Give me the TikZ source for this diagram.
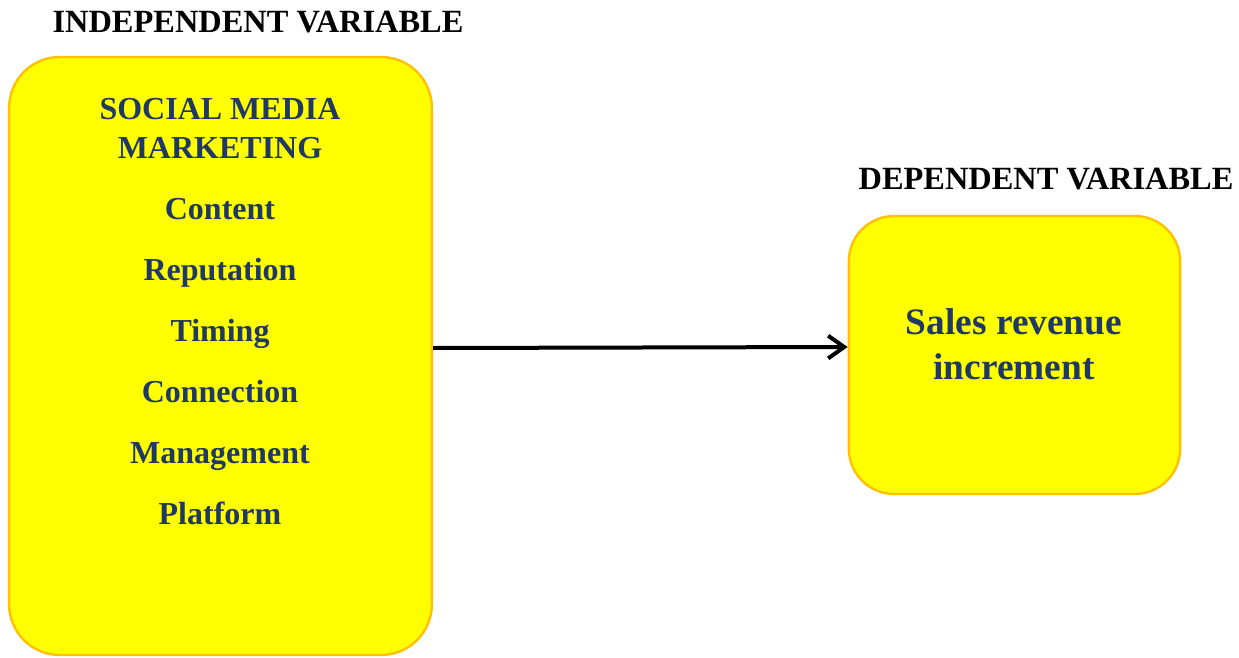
\documentclass[tikz,border=0pt]{standalone}
\usepackage{fontspec}
\setmainfont{Liberation Serif}
\usetikzlibrary{arrows.meta}
\definecolor{boxfill}{HTML}{FFFF00}
\definecolor{boxline}{HTML}{FFC000}
\definecolor{navy}{HTML}{203864}
\tikzset{
  varbox/.style={draw=boxline, fill=boxfill, line width=1.8pt, rounded corners=38pt, inner sep=0pt},
  heading/.style={font=\fontsize{24.3}{29}\selectfont\bfseries, text=black, inner sep=0pt, anchor=base},
  item/.style={font=\fontsize{24}{29}\selectfont\bfseries, text=navy, inner sep=0pt, anchor=base},
  big/.style={font=\fontsize{28}{34}\selectfont\bfseries, text=navy, inner sep=0pt, anchor=base},
  link/.style={line width=3pt, -{Straight Barb[length=12pt, width=17pt, line width=3pt]}}
}
\begin{document}
\begin{tikzpicture}[x=0.75pt, y=-0.75pt]
\useasboundingbox (0,0) rectangle (1239,657);
\node[varbox, minimum width=317pt, minimum height=448.5pt] (smm) at (220.5,356) {};
\node[varbox, minimum width=248.5pt, minimum height=208.5pt, rounded corners=34pt] (sri) at (1014.5,355) {};
\node[heading] (ih) at (258,32) {INDEPENDENT VARIABLE};
\node[heading] (dh) at (1046,189) {DEPENDENT VARIABLE};
\node[item] (t1a) at (220,119) {SOCIAL MEDIA};
\node[item] (t1b) at (220,158) {MARKETING};
\node[item] (t2) at (220,219) {Content};
\node[item] (t3) at (220,280) {Reputation};
\node[item] (t4) at (220,341) {Timing};
\node[item] (t5) at (220,402) {Connection};
\node[item] (t6) at (220,463) {Management};
\node[item] (t7) at (220,524) {Platform};
\node[big] (s1) at (1014,334) {Sales revenue};
\node[big] (s2) at (1014,379) {increment};
\draw[link] ([yshift=6pt]smm.east) -- ([yshift=6pt]sri.west);
\end{tikzpicture}
\end{document}
